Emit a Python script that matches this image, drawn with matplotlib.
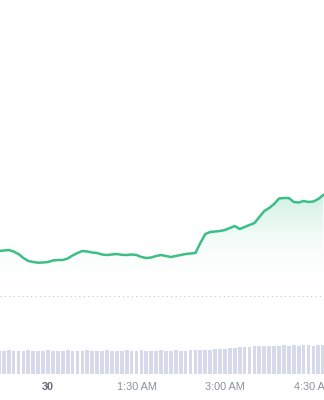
import numpy as np
import matplotlib
matplotlib.use("Agg")
import matplotlib.pyplot as plt
from matplotlib.colors import LinearSegmentedColormap

# ---- data ----
# minutes after midnight (day 30), 5-minute steps
times = list(range(-50, 285, 5))
prices = [46, 46.5, 47, 45.5, 43, 39, 36, 35, 34.3, 34.5, 35, 36.5, 37, 37,
          38.5, 41.5, 44, 46, 45.5, 44.5, 44, 42.5, 42, 42.5, 43, 42.2, 42,
          42.5, 42, 40, 39, 39.5, 41, 42, 41, 40, 41, 42, 43, 43.5, 44, 54,
          63, 65, 65.5, 66, 67, 69, 71, 68, 70, 72, 74, 80, 86, 89, 93, 98.5,
          99, 99, 95, 94.5, 96, 95, 95.5, 98, 102]
volumes = [23.5, 23.4, 23.6, 23.5, 23.3, 23.5, 23.6, 23.4, 23.5, 23.5, 23.6,
           23.4, 23.5, 23.5, 23.6, 23.5, 23.4, 23.5, 23.6, 23.5, 23.5, 23.4,
           23.6, 23.5, 23.5, 23.4, 23.6, 23.5, 23.5, 23.6, 23.5, 23.4, 23.5,
           23.6, 23.5, 23.5, 23.6, 23.5, 23.5, 23.6, 23.7, 23.8, 24.0, 24.3,
           24.6, 25.0, 25.4, 25.8, 26.2, 26.6, 27.0, 27.4, 27.8, 28.1, 28.3,
           28.4, 28.5, 28.5, 28.6, 28.5, 28.6, 28.5, 28.6, 28.6, 28.5, 28.6,
           28.6]
tick_minutes = [0, 90, 180, 270]
tick_labels = ["30", "1:30 AM", "3:00 AM", "4:30 AM"]

LINE = "#3bbf86"
BAR = "#d5d9e9"

W, H = 324, 400
fig = plt.figure(figsize=(W / 100, H / 100), dpi=100)
fig.patch.set_facecolor("white")

# px = 48 + 0.983 * t
xmin = (0 - 48) / 0.983
xmax = (324 - 48) / 0.983

# price axes: pixel rows 0..297
ax = fig.add_axes([0, (H - 297) / H, 1, 297 / H])
ax.set_xlim(xmin, xmax)
ax.set_ylim(0, 297)
ax.axis("off")

t = np.array(times, dtype=float)
p = np.array(prices, dtype=float)
poly = ax.fill_between(t, p, 0, color="none", lw=0)
cmap = LinearSegmentedColormap.from_list(
    "g", [(1, 1, 1, 0), (0.24, 0.77, 0.54, 0.24)])
grad = np.linspace(0, 1, 256).reshape(-1, 1) ** 1.2
im = ax.imshow(grad, cmap=cmap, aspect="auto", origin="lower",
               extent=[xmin, xmax, 0, p.max()], zorder=1)
im.set_clip_path(poly.get_paths()[0], transform=ax.transData)
ax.plot(t, p, color=LINE, lw=1.8, zorder=3, solid_joinstyle="round")
ax.axhline(1.0, color="#c9c9c9", lw=0.9, linestyle=(0, (1, 2.5)), zorder=2)

# volume axes: pixel rows 344..374
vax = fig.add_axes([0, (H - 374) / H, 1, 30 / H])
vax.set_xlim(xmin, xmax)
vax.set_ylim(0, 30)
vax.bar(t, volumes, width=3.8, color=BAR, edgecolor="none", align="center")
for s in vax.spines.values():
    s.set_visible(False)
vax.set_yticks([])
vax.set_xticks(tick_minutes)
vax.set_xticklabels(tick_labels, fontsize=7.8, color="#8c9099",
                    family=["Liberation Sans", "DejaVu Sans"])
vax.tick_params(axis="x", length=0, pad=6.0)
lbls = vax.get_xticklabels()
lbls[0].set_fontweight("bold")
lbls[0].set_color("#666a73")

fig.savefig("out.png", dpi=100, facecolor="white")
